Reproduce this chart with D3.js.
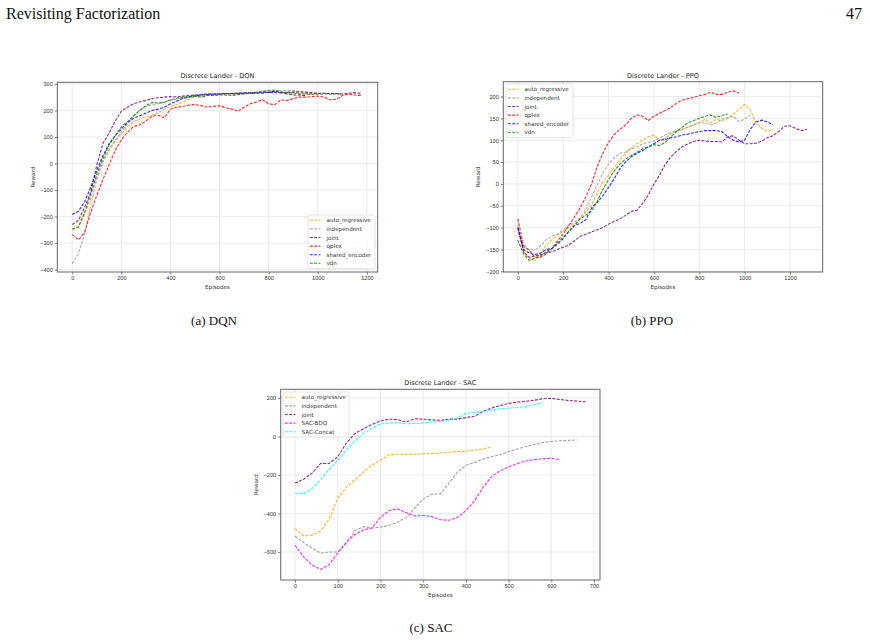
<!DOCTYPE html>
<html>
<head>
<meta charset="utf-8">
<script src="https://cdn.jsdelivr.net/npm/d3@7"></script>
<style>
  body { margin: 0; background: #fff; }
  svg { display: block; font-family: "DejaVu Sans", sans-serif; }
  .serif { font-family: "Liberation Serif", "DejaVu Serif", serif; }
</style>
</head>
<body>
<svg id="fig" width="870" height="643"></svg>
<script>
"use strict";

// ---- DQN (episode step 25) ----
const dqnStep = 25;
const dqnAutoRegressive = [-248,-235,-195,-130,-50,5,50,85,112,140,158,168,175,182,192,205,215,222,230,242,252,257,260,262,262,263,264,265,265,266,266,267,268,268,267,266,266,265,264,264,263];
const dqnIndependent = [-378,-340,-265,-160,-60,10,55,88,120,150,178,200,215,222,225,232,238,242,248,252,255,256,258,260,262,262,264,265,266,265,266,268,270,272,275,276,275,272,270,266,265,264,264,262,262];
const dqnJoint = [-230,-215,-165,-110,-5,75,115,160,197,212,225,232,238,245,248,250,252,251,254,256,258,261,262,261,262,264,264,265,266,266,264,265,268,268,266,268,270,270,268,266,264,265,263,264,262,264,267,264];
const dqnQplex = [-268,-288,-260,-185,-120,-60,-5,50,90,118,140,145,160,178,182,172,205,212,215,220,222,218,212,215,218,210,205,197,212,225,232,240,225,222,240,237,245,250,250,252,254,250,240,242,256,262,258,256];
const dqnSharedEncoder = [-192,-180,-145,-90,-25,30,75,105,130,155,170,180,190,200,205,212,225,235,245,250,255,258,260,262,262,263,262,264,265,265,268,270,268,272,268,262,258,258,256];
const dqnVdn = [-248,-240,-185,-115,-40,20,70,105,138,158,180,200,218,230,228,230,240,246,250,252,254,250,256,256,258,258,256,260,262,264,268,272,276,276,270,268,266,262,262,260,262,262,262,262,262];
const dqnXTicks = [0,200,400,600,800,1000,1200];
const dqnYTicks = [-400,-300,-200,-100,0,100,200,300];
const dqnXDomain = [-61,1244];
const dqnYDomain = [-409,306];

// ---- PPO (episode step 25) ----
const ppoStep = 25;
const ppoAutoRegressive = [-95,-155,-170,-175,-160,-140,-128,-117,-108,-100,-93,-80,-65,-48,-20,5,20,38,55,70,82,92,100,108,112,100,105,115,120,125,130,135,140,148,140,148,145,150,160,170,182,170,140,128,120,125];
const ppoIndependent = [-105,-145,-150,-152,-142,-128,-120,-115,-105,-95,-88,-78,-60,-30,-2,25,45,60,70,73,80,85,92,95,98,105,112,118,122,125,130,135,140,140,135,140,148,152,155,143,148,158];
const ppoJoint = [-100,-155,-168,-165,-162,-158,-155,-150,-145,-140,-130,-120,-115,-110,-105,-100,-92,-86,-80,-72,-63,-60,-45,-25,0,20,45,62,75,85,92,97,100,98,97,97,96,108,110,100,92,92,93,98,106,110,120,132,133,127,122,125];
const ppoQplex = [-80,-140,-152,-168,-168,-160,-148,-130,-115,-95,-75,-55,-30,0,40,70,95,113,125,135,150,158,155,145,155,162,168,175,185,192,195,198,202,205,210,205,205,210,213,208];
const ppoSharedEncoder = [-100,-150,-158,-162,-158,-150,-148,-138,-125,-108,-95,-90,-82,-55,-42,-27,-8,12,35,50,62,70,76,85,92,100,102,106,108,112,114,117,120,122,122,122,120,108,100,96,100,125,142,146,142,136];
const ppoVdn = [-128,-160,-175,-170,-165,-155,-148,-135,-122,-110,-95,-80,-72,-62,-40,-12,10,30,45,57,65,72,80,85,90,88,95,108,120,130,140,145,150,155,158,152,157,160];
const ppoXTicks = [0,200,400,600,800,1000,1200];
const ppoYTicks = [-200,-150,-100,-50,0,50,100,150,200];
const ppoXDomain = [-64,1344];
const ppoYDomain = [-201.6,234];

// ---- SAC (episode step 20) ----
const sacStep = 20;
const sacAutoRegressive = [-478,-515,-512,-490,-430,-320,-265,-225,-185,-148,-125,-95,-92,-92,-92,-90,-88,-86,-82,-78,-76,-70,-65,-56];
const sacIndependent = [-518,-550,-580,-605,-600,-600,-555,-490,-468,-475,-470,-462,-445,-420,-372,-325,-300,-298,-245,-185,-150,-135,-118,-105,-95,-78,-65,-52,-42,-32,-26,-22,-20,-18];
const sacJoint = [-242,-222,-190,-140,-140,-105,-35,15,40,62,80,90,88,75,92,90,86,84,90,90,98,105,130,148,160,172,178,183,188,196,198,192,187,184,180];
const sacBdq = [-565,-625,-668,-690,-665,-605,-550,-510,-485,-475,-420,-385,-375,-395,-412,-410,-416,-432,-435,-420,-385,-335,-265,-208,-178,-158,-140,-127,-120,-116,-113,-120];
const sacConcat = [-295,-298,-270,-225,-170,-125,-70,-25,15,42,65,70,72,66,68,70,74,78,86,95,120,125,128,138,144,147,150,155,165,174];
const sacXTicks = [0,100,200,300,400,500,600,700];
const sacYTicks = [-600,-400,-200,0,200];
const sacXDomain = [-33.5,714];
const sacYDomain = [-745,245];

const svg = d3.select("#fig");
const fmt = d3.format("d");

function drawPanel(p) {
  const x = d3.scaleLinear().domain(p.xDomain).range([p.box.left, p.box.right]);
  const y = d3.scaleLinear().domain(p.yDomain).range([p.box.bottom, p.box.top]);
  const g = svg.append("g");

  // grid
  g.selectAll(".gx").data(p.xTicks).join("line")
    .attr("x1", d => x(d)).attr("x2", d => x(d))
    .attr("y1", p.box.top).attr("y2", p.box.bottom)
    .attr("stroke", "#e4e4e4").attr("stroke-width", 0.8);
  g.selectAll(".gy").data(p.yTicks).join("line")
    .attr("y1", d => y(d)).attr("y2", d => y(d))
    .attr("x1", p.box.left).attr("x2", p.box.right)
    .attr("stroke", "#e4e4e4").attr("stroke-width", 0.8);

  // axes
  const xa = g.append("g").attr("transform", `translate(0,${p.box.bottom})`)
    .call(d3.axisBottom(x).tickValues(p.xTicks).tickSize(2.5).tickPadding(1.6).tickFormat(fmt));
  const ya = g.append("g").attr("transform", `translate(${p.box.left},0)`)
    .call(d3.axisLeft(y).tickValues(p.yTicks).tickSize(2.5).tickPadding(2).tickFormat(fmt));
  [xa, ya].forEach(a => {
    a.select(".domain").remove();
    a.selectAll("line").attr("stroke", "#444").attr("stroke-width", 0.7);
    a.selectAll("text").attr("fill", "#333").style("font-size", "5.6px");
  });

  // series
  const line = d3.line().x((d, i) => x(i * p.step)).y(d => y(d));
  p.series.forEach(s => {
    g.append("path").datum(s.values)
      .attr("d", line)
      .attr("fill", "none")
      .attr("stroke", s.color)
      .attr("stroke-opacity", 0.85)
      .attr("stroke-width", 1.1)
      .attr("stroke-dasharray", "3,1.4");
  });

  // frame
  g.append("rect")
    .attr("x", p.box.left).attr("y", p.box.top)
    .attr("width", p.box.right - p.box.left).attr("height", p.box.bottom - p.box.top)
    .attr("fill", "none").attr("stroke", "#666").attr("stroke-width", 1);

  // titles
  g.append("text").attr("x", (p.box.left + p.box.right) / 2).attr("y", p.box.top - 4)
    .attr("text-anchor", "middle").attr("fill", "#222").style("font-size", "6.6px").text(p.title);
  g.append("text").attr("x", (p.box.left + p.box.right) / 2).attr("y", p.box.bottom + 15)
    .attr("text-anchor", "middle").attr("dominant-baseline", "central")
    .attr("fill", "#333").style("font-size", "5.6px").text("Episodes");
  g.append("text")
    .attr("transform", `translate(${p.yLabelX},${(p.box.top + p.box.bottom) / 2}) rotate(-90)`)
    .attr("text-anchor", "middle").attr("dominant-baseline", "central")
    .attr("fill", "#333").style("font-size", "5.6px").text("Reward");

  // legend
  const L = p.legend;
  const lg = g.append("g");
  lg.append("rect").attr("x", L.x).attr("y", L.y).attr("width", L.w)
    .attr("height", p.series.length * 8.6 + 2)
    .attr("rx", 1.5).attr("fill", "#fff").attr("fill-opacity", 0.85)
    .attr("stroke", "#d0d0d0").attr("stroke-width", 0.6);
  const rows = lg.selectAll(".row").data(p.series).join("g")
    .attr("transform", (d, i) => `translate(${L.x},${L.y + 5.3 + i * 8.6})`);
  rows.append("line").attr("x1", 1.8).attr("x2", 12.5).attr("y1", 0).attr("y2", 0)
    .attr("stroke", d => d.color).attr("stroke-opacity", 0.85)
    .attr("stroke-width", 1.1).attr("stroke-dasharray", "3,1.4");
  rows.append("text").attr("x", 18.5).attr("y", 0).attr("dominant-baseline", "central")
    .attr("fill", "#333").style("font-size", "5.6px").text(d => d.name);
}

drawPanel({
  title: "Discrete Lander - DQN",
  box: {left: 57.3, right: 377.7, top: 82.3, bottom: 272},
  xDomain: dqnXDomain, yDomain: dqnYDomain, xTicks: dqnXTicks, yTicks: dqnYTicks,
  step: dqnStep, yLabelX: 32.7,
  legend: {x: 308, y: 215, w: 67},
  series: [
    {name: "auto_regressive", values: dqnAutoRegressive, color: "orange"},
    {name: "independent", values: dqnIndependent, color: "#a0a0a0"},
    {name: "joint", values: dqnJoint, color: "purple"},
    {name: "qplex", values: dqnQplex, color: "red"},
    {name: "shared_encoder", values: dqnSharedEncoder, color: "blue"},
    {name: "vdn", values: dqnVdn, color: "green"}
  ]
});

drawPanel({
  title: "Discrete Lander - PPO",
  box: {left: 503.3, right: 822.7, top: 81.7, bottom: 272},
  xDomain: ppoXDomain, yDomain: ppoYDomain, xTicks: ppoXTicks, yTicks: ppoYTicks,
  step: ppoStep, yLabelX: 478.3,
  legend: {x: 506, y: 84, w: 67},
  series: [
    {name: "auto_regressive", values: ppoAutoRegressive, color: "orange"},
    {name: "independent", values: ppoIndependent, color: "#a0a0a0"},
    {name: "joint", values: ppoJoint, color: "purple"},
    {name: "qplex", values: ppoQplex, color: "red"},
    {name: "shared_encoder", values: ppoSharedEncoder, color: "blue"},
    {name: "vdn", values: ppoVdn, color: "green"}
  ]
});

drawPanel({
  title: "Discrete Lander - SAC",
  box: {left: 280.7, right: 600, top: 389.3, bottom: 580},
  xDomain: sacXDomain, yDomain: sacYDomain, xTicks: sacXTicks, yTicks: sacYTicks,
  step: sacStep, yLabelX: 256,
  legend: {x: 283, y: 392, w: 66},
  series: [
    {name: "auto_regressive", values: sacAutoRegressive, color: "orange"},
    {name: "independent", values: sacIndependent, color: "#909090"},
    {name: "joint", values: sacJoint, color: "purple"},
    {name: "SAC-BDQ", values: sacBdq, color: "magenta"},
    {name: "SAC-Concat", values: sacConcat, color: "cyan"}
  ]
});

// page header and captions
svg.append("text").attr("class", "serif").attr("x", 6).attr("y", 19)
  .style("font-size", "16px").attr("fill", "#111").text("Revisiting Factorization");
svg.append("text").attr("class", "serif").attr("x", 862).attr("y", 19)
  .attr("text-anchor", "end").style("font-size", "16px").attr("fill", "#111").text("47");
const captions = [
  {text: "(a) DQN", x: 214, y: 325},
  {text: "(b) PPO", x: 652, y: 325},
  {text: "(c) SAC", x: 431, y: 632}
];
svg.selectAll(".cap").data(captions).join("text")
  .attr("class", "serif").attr("x", d => d.x).attr("y", d => d.y)
  .attr("text-anchor", "middle").style("font-size", "13px").attr("fill", "#111")
  .text(d => d.text);
</script>
</body>
</html>
